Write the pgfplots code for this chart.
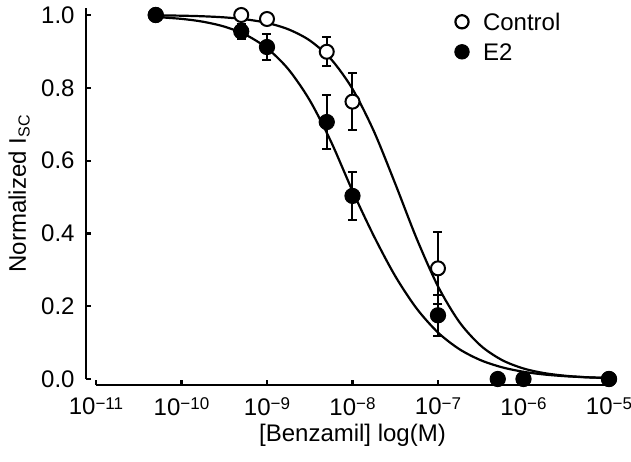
\documentclass[border=0pt,12pt]{standalone}
\usepackage{fontspec}
\setmainfont{Liberation Sans}
\usepackage{pgfplots}
\pgfplotsset{compat=1.18}
\newcommand\dec[1]{10\raisebox{2.9pt}{\fontsize{8.5}{10}\selectfont −#1}}

\begin{document}
\begin{tikzpicture}
\begin{axis}[
    scale only axis, width=256.5pt, height=185.64pt,
    xmode=log, xmin=1e-11, xmax=1e-5,
    ymin=0, ymax=1.02,
    axis lines=left,
    axis line style={-, line width=1.1pt},
    axis x line shift=3pt, axis y line shift=5pt,
    tick align=inside, major tick length=2.4pt,
    tick style={line width=1.1pt, black},
    xtick={1e-11,1e-10,1e-9,1e-8,1e-7,1e-6,1e-5},
    xticklabels={\dec{11},\dec{10},\dec{9},\dec{8},\dec{7},\dec{6},\dec{5}},
    xticklabel style={inner sep=0pt, yshift=-6pt},
    yticklabel style={xshift=-1.5pt},
    xminorticks=false,
    ytick={0,0.2,0.4,0.6,0.8,1},
    yticklabels={0.0,0.2,0.4,0.6,0.8,1.0},
    xlabel={[Benzamil] log(M)},
    ylabel={Normalized I\textsubscript{SC}},
    every axis x label/.style={at={(axis description cs:0.5,0)}, anchor=base, inner sep=0pt, yshift=-31pt},
    every axis y label/.style={at={(axis description cs:-0.1365,0.5)}, anchor=base, rotate=90},
    legend style={draw=none, fill=none, inner sep=0pt, outer sep=0pt,
        at={(axis description cs:0.6967,0.9852)}, anchor=north west,
        row sep=6.4pt, column sep=0pt,
        nodes={inner sep=0pt, text height=8.6pt, text depth=0pt}},
    legend cell align=left,
    legend image code/.code={
        \path[draw=none, fill=none] (-4.3pt,-4.3pt) rectangle (10.5pt,4.3pt);
        \draw[mark repeat=2, mark phase=2, #1] plot coordinates {(-4pt,0pt) (0pt,0pt) (4pt,0pt)};},
    clip=false,
]
% fitted curves
\addplot[black, line width=1.1pt, smooth, forget plot] coordinates {
(5.012e-11,0.9991) (1e-10,0.9981) (1.778e-10,0.9965) (3.162e-10,0.9935) (5.623e-10,0.9881)
(1e-9,0.9783) (1.778e-9,0.9607) (3.162e-9,0.9301) (5.623e-9,0.8785) (1e-8,0.7969)
(1.778e-8,0.6808) (3.162e-8,0.5365) (5.623e-8,0.3861) (1e-7,0.2546) (1.778e-7,0.1565)
(3.162e-7,0.0916) (5.623e-7,0.0519) (1e-6,0.0289) (1.778e-6,0.0159) (3.162e-6,0.0087)
(5.623e-6,0.0047) (1e-5,0.0026)};
\addplot[black, line width=1.1pt, smooth, forget plot] coordinates {
(5.012e-11,0.9945) (1e-10,0.9894) (1.778e-10,0.9816) (3.162e-10,0.9682) (5.623e-10,0.9458)
(1e-9,0.9089) (1.778e-9,0.851) (3.162e-9,0.7657) (5.623e-9,0.6515) (1e-8,0.5168)
(1.778e-8,0.3928) (3.162e-8,0.2827) (5.623e-8,0.1938) (1e-7,0.1277) (1.778e-7,0.082)
(3.162e-7,0.0516) (5.623e-7,0.0321) (1e-6,0.0198) (1.778e-6,0.0122) (3.162e-6,0.0075)
(5.623e-6,0.0046) (1e-5,0.0028)};
% Control
\addplot[forget plot, only marks, mark=*, mark size=3.5pt, mark options={fill=white, draw=black, line width=1pt},
    error bars/.cd, y dir=both, y explicit,
    error bar style={line width=1pt, black},
    error mark options={rotate=90, mark size=2.25pt, line width=1pt, black}]
coordinates {
(5e-11,1.0) +- (0,0)
(5e-10,1.0) +- (0,0)
(1e-9,0.989) +- (0,0)
(5e-9,0.899) +- (0,0.04)
(1e-8,0.762) +- (0,0.078)
(1e-7,0.304) +- (0,0.099)
(1e-5,0.0) +- (0,0)};
% E2
\addplot[forget plot, only marks, mark=*, mark size=3.8pt, mark options={fill=black, draw=black, line width=0.5pt},
    error bars/.cd, y dir=both, y explicit,
    error bar style={line width=1pt, black},
    error mark options={rotate=90, mark size=2.25pt, line width=1pt, black}]
coordinates {
(5e-11,1.0) +- (0,0)
(5e-10,0.955) +- (0,0.02)
(1e-9,0.912) +- (0,0.036)
(5e-9,0.706) +- (0,0.073)
(1e-8,0.503) +- (0,0.065)
(1e-7,0.175) +- (0,0.056)
(5e-7,0.0) +- (0,0)
(1e-6,0.0) +- (0,0)
(1e-5,0.0) +- (0,0)};
\addlegendimage{only marks, mark=*, mark size=3.3pt, mark options={fill=white, draw=black, line width=1.1pt}}
\addlegendentry{Control}
\addlegendimage{only marks, mark=*, mark size=3.6pt, mark options={fill=black, draw=black, line width=0.5pt}}
\addlegendentry{E2}
\end{axis}
\pgfresetboundingbox
\path[use as bounding box] (-48pt,-41pt) rectangle (267.5pt,189.5pt);
\end{tikzpicture}
\end{document}
